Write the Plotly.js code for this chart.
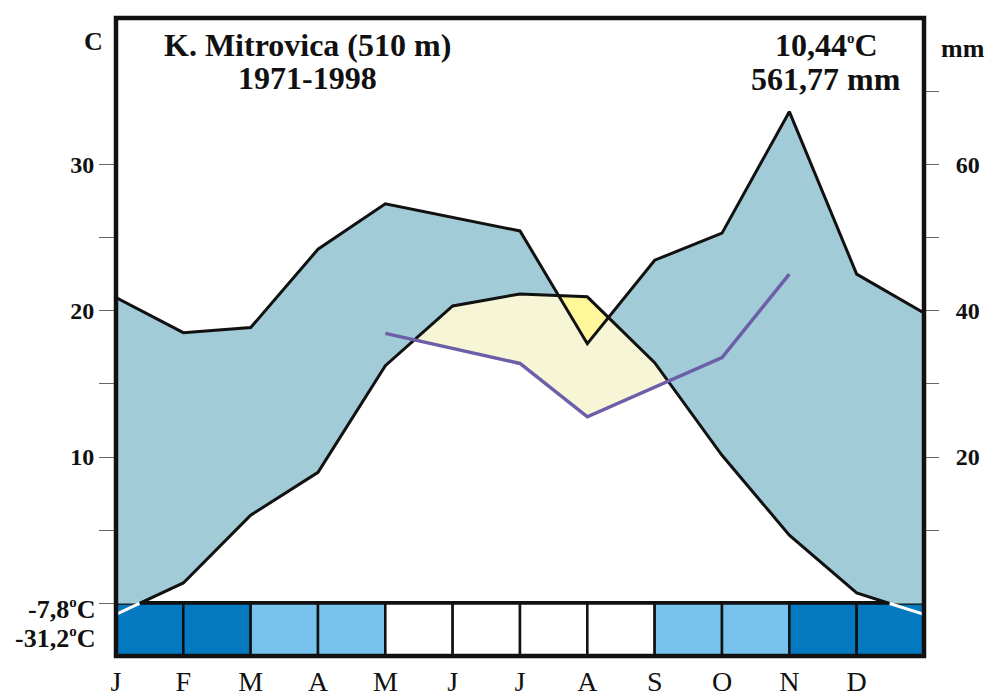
<!DOCTYPE html>
<html><head><meta charset="utf-8">
<script src="https://cdn.plot.ly/plotly-3.0.1.min.js"></script>
<style>html,body{margin:0;padding:0;background:#fff;} #chart{width:987px;height:698px;}</style>
</head><body><div id="chart"></div>
<script>
// ---------- DATA ----------
const months = ['J','F','M','A','M','J','J','A','S','O','N','D'];
// values at month positions 0..12 (12 = closing point at the right edge)
const temperature = [-0.75, 1.4, 6.03, 8.96, 16.25, 20.33, 21.15, 20.95, 16.45, 10.12, 4.67, 0.72, -0.75]; // °C
const precipitation = [41.8, 37.0, 37.7, 48.4, 54.6, 52.8, 50.9, 35.5, 46.9, 50.6, 67.2, 45.0, 39.7]; // mm
const purpleMonths = [4, 5, 6, 7, 8, 9, 10];
const purpleValues = [36.9, 34.8, 32.8, 25.5, 29.6, 33.6, 45.0]; // mm
const frost = ['dark','dark','light','light','none','none','none','none','light','light','dark','dark'];
const station = 'K. Mitrovica (510 m)';
const period = '1971-1998';
const meanTemp = '10,44';
const annualPrecip = '561,77';
const absMinMean = '-7,8';
const absMin = '-31,2';
const leftTickVals = [10, 20, 30];
const leftMinorVals = [0, 5, 15, 25];
const rightTickVals = [20, 40, 60];
const rightMinorVals = [10, 30, 50, 70];

// ---------- STYLE / LAYOUT CONSTANTS ----------
const W = 987, H = 698;
const M = {l: 116, r: 63, t: 18, b: 42};
const YMIN = -3.59, YMAX = 40;   // temperature scale; frost boxes live below 0
const MM_PER_C = 2;               // Walter-Lieth scale 10 °C = 20 mm
const BOX = -YMIN;
const C_BLUE = '#a2cbd8', C_YEL = '#fff799', C_CREAM = '#f6f5d6', C_PURPLE = '#6c5ea8';
const frostColor = {dark: '#0479bf', light: '#77c3ee', none: '#ffffff'};
const SERIF = 'Liberation Serif, Times New Roman, serif';
const DEG = '<sup><span style="font-size:15px">o</span></sup>';
const PAD = '\u00a0\u00a0';

// ---------- helpers ----------
const xsAll = temperature.map((_, i) => i);
const P = precipitation.map(v => v / MM_PER_C);
const Pu = purpleValues.map(v => v / MM_PER_C);
const EPS = 1e-9;
function interp(xs, ys, x) {
  if (x <= xs[0]) return ys[0];
  for (let i = 0; i < xs.length - 1; i++) {
    if (x <= xs[i + 1]) {
      const t = (x - xs[i]) / (xs[i + 1] - xs[i]);
      return ys[i] + t * (ys[i + 1] - ys[i]);
    }
  }
  return ys[ys.length - 1];
}
function crossings(xs, a, b) {
  const out = [];
  for (let i = 0; i < xs.length - 1; i++) {
    const d0 = a[i] - b[i], d1 = a[i + 1] - b[i + 1];
    if (d0 * d1 < 0) out.push(xs[i] + (xs[i + 1] - xs[i]) * d0 / (d0 - d1));
  }
  return out;
}
function grid(xs, extra) {
  return Array.from(new Set(xs.concat(extra))).sort((p, q) => p - q);
}
const zeros = xsAll.map(() => 0);
const gMain = grid(xsAll, crossings(xsAll, temperature, P).concat(crossings(xsAll, temperature, zeros)));
const Tg = gMain.map(x => interp(xsAll, temperature, x));
const Pg = gMain.map(x => interp(xsAll, P, x));
const T0g = Tg.map(v => Math.max(v, 0));
const blueTop = Pg.map((v, i) => Math.max(v, T0g[i]));
const yelTop = Pg.map((v, i) => Math.max(v, Tg[i]));

const TonPu = purpleMonths.map(x => interp(xsAll, temperature, x));
const gPu = grid(purpleMonths, crossings(purpleMonths, TonPu, Pu));
const PuG = gPu.map(x => interp(purpleMonths, Pu, x));
const TPuG = gPu.map(x => interp(xsAll, temperature, x));
const creamTop = PuG.map((v, i) => Math.max(v, TPuG[i]));

const zeroX = crossings(xsAll, temperature, zeros);
const gT = grid(xsAll, zeroX);
const TgT = gT.map(x => zeroX.includes(x) ? 0 : interp(xsAll, temperature, x));
const Tpos = TgT.map(v => v >= -EPS ? v : null);
const Tneg = TgT.map(v => v <= EPS ? v : null);

const inv = {width: 0, color: 'rgba(0,0,0,0)'};
const traces = [
  {type: 'bar', x: months.map((_, i) => i + 0.5), y: months.map(() => BOX), base: YMIN, width: 1,
   marker: {color: frost.map(f => frostColor[f]), line: {color: '#111', width: 2.5}}, hoverinfo: 'skip'},
  {type: 'scatter', mode: 'lines', x: gPu, y: PuG, line: inv, hoverinfo: 'skip'},
  {type: 'scatter', mode: 'lines', x: gPu, y: creamTop, line: inv, fill: 'tonexty', fillcolor: C_CREAM, hoverinfo: 'skip'},
  {type: 'scatter', mode: 'lines', x: gMain, y: T0g, line: inv, hoverinfo: 'skip'},
  {type: 'scatter', mode: 'lines', x: gMain, y: blueTop, line: inv, fill: 'tonexty', fillcolor: C_BLUE, hoverinfo: 'skip'},
  {type: 'scatter', mode: 'lines', x: gMain, y: Pg, line: inv, hoverinfo: 'skip'},
  {type: 'scatter', mode: 'lines', x: gMain, y: yelTop, line: inv, fill: 'tonexty', fillcolor: C_YEL, hoverinfo: 'skip'},
  {type: 'scatter', mode: 'lines', x: gT, y: Tpos, line: {color: '#111', width: 3}, connectgaps: false},
  {type: 'scatter', mode: 'lines', x: gT, y: Tneg, line: {color: '#ffffff', width: 3}, connectgaps: false},
  {type: 'scatter', mode: 'lines', x: xsAll, y: precipitation, yaxis: 'y2', line: {color: '#111', width: 3}},
  {type: 'scatter', mode: 'lines', x: purpleMonths, y: purpleValues, yaxis: 'y2', line: {color: C_PURPLE, width: 3.5}}
];

const PW = W - M.l - M.r, PH = H - M.t - M.b;
const px = x => (x - M.l) / PW;
const py = y => (H - M.b - y) / PH;
const bold = (s) => ({family: SERIF, size: s, color: '#111', weight: 'bold'});
function ann(text, x, y, size, xanchor) {
  return {text, x: px(x), y: py(y), xref: 'paper', yref: 'paper', showarrow: false,
          xanchor: xanchor || 'center', yanchor: 'middle', font: bold(size)};
}
const tickStyle = {ticks: 'outside', tickwidth: 1, tickcolor: '#666'};
const layout = {
  width: W, height: H, margin: M, showlegend: false,
  paper_bgcolor: '#ffffff', plot_bgcolor: '#ffffff',
  xaxis: {range: [0, 12], tickvals: months.map((_, i) => i), ticktext: months, ticks: '',
          showgrid: false, zeroline: false, showline: false, fixedrange: true, ticklabelstandoff: 6,
          tickfont: {family: SERIF, size: 28, color: '#111'}},
  yaxis: Object.assign({range: [YMIN, YMAX], tickvals: leftTickVals, ticklen: 16,
          minor: Object.assign({tickvals: leftMinorVals, ticklen: 16, showgrid: false}, tickStyle),
          showgrid: false, zeroline: true, zerolinecolor: '#111', zerolinewidth: 4, showline: false,
          tickfont: bold(24)}, tickStyle),
  yaxis2: Object.assign({overlaying: 'y', side: 'right', range: [YMIN * MM_PER_C, YMAX * MM_PER_C],
           tickvals: rightTickVals, ticktext: rightTickVals.map(v => PAD + v), ticklen: 14,
           minor: Object.assign({tickvals: rightMinorVals, ticklen: 14, showgrid: false}, tickStyle),
           showgrid: false, zeroline: false, showline: false,
           tickfont: bold(24)}, tickStyle),
  shapes: [{type: 'rect', xref: 'paper', yref: 'paper', x0: 0, x1: 1, y0: 0, y1: 1,
            line: {color: '#111', width: 4.5}, fillcolor: 'rgba(0,0,0,0)', layer: 'above'}],
  annotations: [
    ann('C', 93, 42, 26),
    ann('mm', 963, 49, 26),
    ann(station, 307, 45, 32),
    ann(period, 307, 78, 32),
    ann(meanTemp + DEG + 'C', 826, 45, 32),
    ann(annualPrecip + ' mm', 826, 79, 32),
    ann(absMinMean + DEG + 'C', 97, 609, 26, 'right'),
    ann(absMin + DEG + 'C', 97, 638, 26, 'right')
  ]
};
Plotly.newPlot('chart', traces, layout, {staticPlot: true, displayModeBar: false});
</script>
</body></html>
